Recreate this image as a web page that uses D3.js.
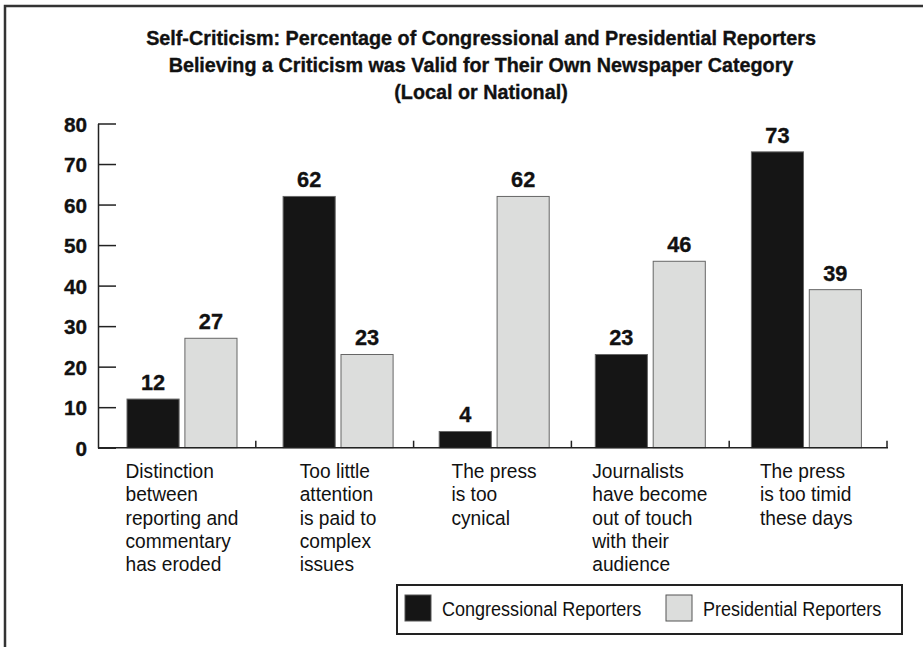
<!DOCTYPE html>
<meta charset="utf-8">
<script src="https://d3js.org/d3.v7.min.js"></script>
<style>
  body { margin: 0; background: #fff; }
  text { font-family: "Liberation Sans", Arial, sans-serif; fill: #111; }
  text.heavy { stroke: #111; stroke-width: 0.35px; }
</style>
<div id="chart"></div>
<script>
// data
var categories = [
  ["Distinction", "between", "reporting and", "commentary", "has eroded"],
  ["Too little", "attention", "is paid to", "complex", "issues"],
  ["The press", "is too", "cynical"],
  ["Journalists", "have become", "out of touch", "with their", "audience"],
  ["The press", "is too timid", "these days"]
];
var series = ["Congressional Reporters", "Presidential Reporters"];
var congressional = [12, 62, 4, 23, 73];
var presidential = [27, 23, 62, 46, 39];
var yTicks = [0, 10, 20, 30, 40, 50, 60, 70, 80];
var titleLines = [
  "Self-Criticism: Percentage of Congressional and Presidential Reporters",
  "Believing a Criticism was Valid for Their Own Newspaper Category",
  "(Local or National)"
];

var colors = {"Congressional Reporters": "#151515", "Presidential Reporters": "#dcdddc"};

var width = 923, height = 647;
var svg = d3.select("#chart").append("svg")
  .attr("width", width)
  .attr("height", height);

// the original uses a condensed face; squeeze Liberation Sans horizontally to match
function measure(str, size, weight) {
  var t = svg.append("text").style("font-size", size + "px").style("font-weight", weight).text(str);
  var w = t.node().getComputedTextLength();
  t.remove();
  return w;
}
var sxBold = 670 / measure(titleLines[0], 20, "bold");
var sxReg = 178.4 / measure(series[1], 20, "normal");
var sxLab = 113 / measure("reporting and", 19.5, "normal");

// place a text at (x, y) squeezed horizontally
function squeeze(sel, sx) {
  sel.each(function() {
    var t = d3.select(this);
    var x = +t.attr("x") || 0, y = +t.attr("y") || 0;
    t.attr("transform", "translate(" + x + "," + y + ") scale(" + sx + ",1)")
      .attr("x", 0).attr("y", 0);
  });
}

// outer frame (top and left edges visible)
svg.append("path")
  .attr("d", "M5," + height + " L5,6 L" + width + ",6")
  .attr("fill", "none")
  .attr("stroke", "#333")
  .attr("stroke-width", 2.5);

// title
svg.append("g").selectAll("text")
  .data(titleLines)
  .enter().append("text")
  .attr("class", "heavy")
  .attr("x", 481)
  .attr("y", function(d, i) { return 45 + i * 27; })
  .attr("text-anchor", "middle")
  .style("font-weight", "bold")
  .style("font-size", "20px")
  .text(function(d) { return d; })
  .call(squeeze, sxBold);

// scales
var idx = d3.range(categories.length);
var x = d3.scaleBand()        // category slots, separators at their right edges
  .domain(idx)
  .range([98, 887]);
var xGroup = d3.scaleBand()   // start of each pair of bars
  .domain(idx)
  .range([127, 907.5]);
var xSub = d3.scaleBand()
  .domain(series)
  .range([0, 110])
  .paddingInner(0.1);
var y = d3.scaleLinear()
  .domain([0, 80])
  .range([447.7, 123.5]);

// y axis, ticks pointing inward
var yAxis = svg.append("g")
  .attr("transform", "translate(98,0)")
  .call(d3.axisLeft(y).tickValues(yTicks).tickSize(-18).tickSizeOuter(0));
yAxis.select(".domain").attr("stroke", "#222").attr("stroke-width", 1.5);
yAxis.selectAll(".tick line").attr("stroke", "#222").attr("stroke-width", 1.5);
yAxis.selectAll(".tick text")
  .attr("class", "heavy")
  .style("font-family", "'Liberation Sans', Arial, sans-serif")
  .style("font-size", "21px")
  .style("font-weight", "bold")
  .attr("fill", "#111")
  .attr("x", -11)
  .attr("dy", "0.36em")
  .call(squeeze, sxBold);

// bars
var rows = categories.map(function(c, i) {
  return {i: i, values: [
    {key: series[0], value: congressional[i]},
    {key: series[1], value: presidential[i]}
  ]};
});

var groups = svg.append("g").selectAll("g")
  .data(rows)
  .enter().append("g")
  .attr("transform", function(d) { return "translate(" + xGroup(d.i) + ",0)"; });

groups.selectAll("rect")
  .data(function(d) { return d.values; })
  .enter().append("rect")
  .attr("x", function(d) { return xSub(d.key); })
  .attr("y", function(d) { return y(d.value); })
  .attr("width", xSub.bandwidth())
  .attr("height", function(d) { return y(0) - y(d.value); })
  .attr("fill", function(d) { return colors[d.key]; })
  .attr("stroke", "#666")
  .attr("stroke-width", 1);

groups.selectAll(".val")
  .data(function(d) { return d.values; })
  .enter().append("text")
  .attr("class", "val heavy")
  .attr("x", function(d) { return xSub(d.key) + xSub.bandwidth() / 2; })
  .attr("y", function(d) { return y(d.value) - 9; })
  .attr("text-anchor", "middle")
  .style("font-weight", "bold")
  .style("font-size", "22px")
  .text(function(d) { return d.value; })
  .call(squeeze, sxBold);

// x axis line with separator ticks between categories
svg.append("line")
  .attr("x1", 98).attr("x2", 888)
  .attr("y1", y(0)).attr("y2", y(0))
  .attr("stroke", "#222").attr("stroke-width", 1.5);
svg.append("g").selectAll("line")
  .data(idx)
  .enter().append("line")
  .attr("x1", function(d) { return x(d) + x.bandwidth(); })
  .attr("x2", function(d) { return x(d) + x.bandwidth(); })
  .attr("y1", y(0)).attr("y2", y(0) - 7)
  .attr("stroke", "#222").attr("stroke-width", 1.5);

// category labels: left-aligned lines, block centered on the bar pair
var labels = groups.append("text")
  .style("font-size", "19.5px");
labels.selectAll("tspan")
  .data(function(d) { return categories[d.i]; })
  .enter().append("tspan")
  .attr("x", 0)
  .attr("dy", function(d, i) { return i === 0 ? 0 : 23.3; })
  .text(function(d) { return d; });
labels.each(function() {
  var w = this.getBBox().width * sxLab;
  var left = 55 - w / 2;
  d3.select(this).attr("transform", "translate(" + left + ",478) scale(" + sxLab + ",1)");
});

// legend
var legend = svg.append("g");
legend.append("rect")
  .attr("x", 397).attr("y", 585)
  .attr("width", 505).attr("height", 49)
  .attr("fill", "#fff")
  .attr("stroke", "#222")
  .attr("stroke-width", 2);
var legendX = [405, 666];
series.forEach(function(s, i) {
  legend.append("rect")
    .attr("x", legendX[i]).attr("y", 595)
    .attr("width", 26).attr("height", 26)
    .attr("fill", colors[s])
    .attr("stroke", "#555")
    .attr("stroke-width", 1);
  legend.append("text")
    .attr("x", legendX[i] + 37)
    .attr("y", 616)
    .style("font-size", "20px")
    .text(s)
    .call(squeeze, sxReg);
});
</script>
